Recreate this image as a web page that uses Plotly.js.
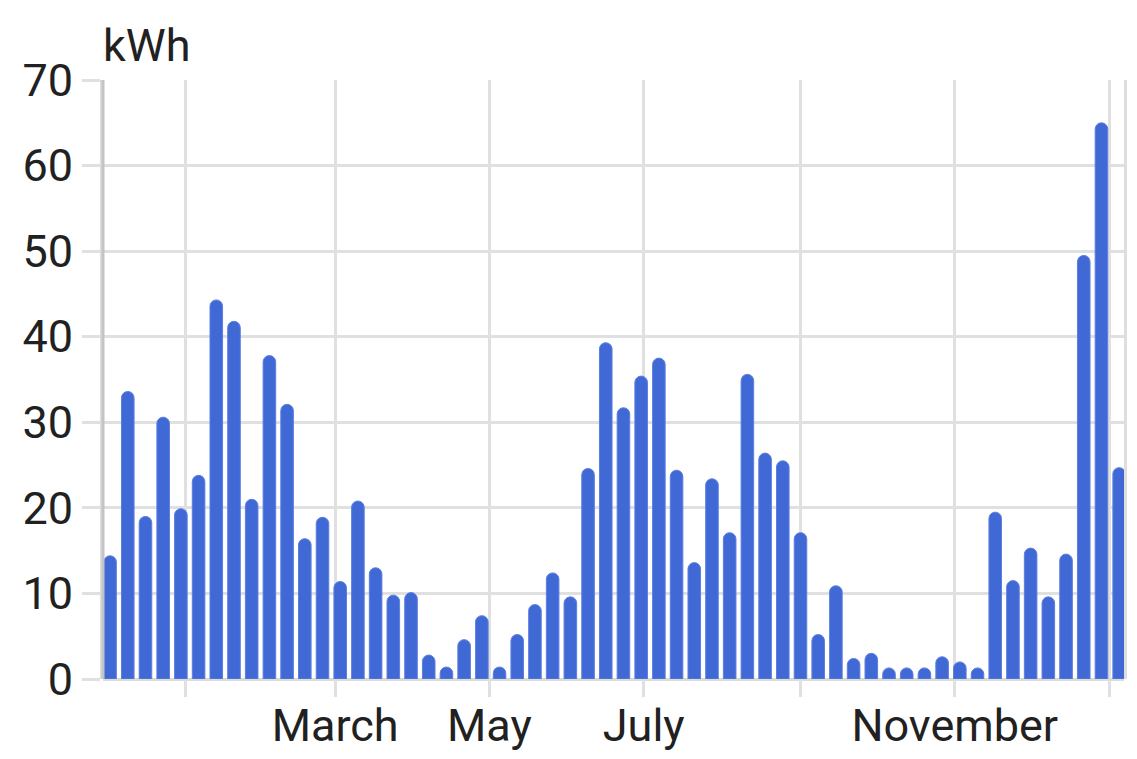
<!DOCTYPE html>
<html>
<head>
<meta charset="utf-8">
<script src="https://cdn.plot.ly/plotly-3.0.1.min.js"></script>
<style>
html,body{margin:0;padding:0;background:#fff;}
#chart{width:1137px;height:759px;}
</style>
</head>
<body>
<div id="chart"></div>
<script>
// Weekly consumption (kWh)
const weeks = [
  '2021-12-02','2021-12-09','2021-12-16','2021-12-23','2021-12-30',
  '2022-01-06','2022-01-13','2022-01-20','2022-01-27',
  '2022-02-03','2022-02-10','2022-02-17','2022-02-24',
  '2022-03-03','2022-03-10','2022-03-17','2022-03-24','2022-03-31',
  '2022-04-07','2022-04-14','2022-04-21','2022-04-28',
  '2022-05-05','2022-05-12','2022-05-19','2022-05-26',
  '2022-06-02','2022-06-09','2022-06-16','2022-06-23','2022-06-30',
  '2022-07-07','2022-07-14','2022-07-21','2022-07-28',
  '2022-08-04','2022-08-11','2022-08-18','2022-08-25',
  '2022-09-01','2022-09-08','2022-09-15','2022-09-22','2022-09-29',
  '2022-10-06','2022-10-13','2022-10-20','2022-10-27',
  '2022-11-03','2022-11-10','2022-11-17','2022-11-24',
  '2022-12-01','2022-12-08','2022-12-15','2022-12-22','2022-12-29',
  '2023-01-05'
];
const energy = [
  14.4, 33.6, 19.0, 30.6, 19.9,
  23.8, 44.3, 41.8, 21.0,
  37.8, 32.1, 16.4, 18.9,
  11.4, 20.8, 13.0, 9.8, 10.1,
  2.8, 1.4, 4.6, 7.4,
  1.4, 5.2, 8.7, 12.4,
  9.6, 24.6, 39.3, 31.7, 35.4,
  37.5, 24.4, 13.6, 23.4,
  17.1, 35.6, 26.4, 25.5,
  17.1, 5.2, 10.9, 2.4, 3.0,
  1.3, 1.3, 1.3, 2.6,
  2.0, 1.3, 19.5, 11.5,
  15.3, 9.6, 14.6, 49.5, 65.0,
  24.7
];
const tickDates = ['2022-01-01','2022-03-01','2022-05-01','2022-07-01','2022-09-01','2022-11-01','2023-01-01'];
const tickLabels = ['', 'March', 'May', 'July', '', 'November', ''];
const yTicks = [0, 10, 20, 30, 40, 50, 60, 70];
const unitLabel = 'kWh';

const gridColor = '#e0e0e0';
const textColor = '#212121';
const font = 'Roboto, sans-serif';
const fs = 45;

const trace = {
  type: 'bar',
  x: weeks,
  y: energy,
  marker: {
    color: '#4169d6',
    line: {color: '#5a7fe0', width: 1},
    cornerradius: '50%'
  },
  hoverinfo: 'x+y'
};

const layout = {
  width: 1137,
  height: 759,
  margin: {l: 103, r: 13, t: 80, b: 80, pad: 0},
  paper_bgcolor: '#ffffff',
  plot_bgcolor: '#ffffff',
  showlegend: false,
  bargap: 0.29,
  font: {family: font, color: textColor, size: fs},
  xaxis: {
    type: 'date',
    range: ['2021-11-29 05:00', '2023-01-06 22:00'],
    tickmode: 'array',
    tickvals: tickDates,
    ticktext: tickLabels,
    showgrid: true,
    gridcolor: gridColor,
    gridwidth: 3,
    ticks: 'outside',
    ticklen: 17,
    tickwidth: 3,
    tickcolor: gridColor,
    showline: false,
    zeroline: false,
    ticklabelstandoff: -10,
    tickfont: {family: font, size: fs, color: textColor}
  },
  yaxis: {
    range: [0, 70],
    tickmode: 'array',
    tickvals: yTicks,
    showgrid: true,
    gridcolor: gridColor,
    gridwidth: 3,
    zeroline: true,
    zerolinecolor: '#dcdcdc',
    zerolinewidth: 3,
    showline: true,
    mirror: true,
    linecolor: '#dedede',
    linewidth: 3,
    ticks: 'outside',
    ticklen: 18,
    tickwidth: 3,
    tickcolor: gridColor,
    tickfont: {family: font, size: fs, color: textColor}
  },
  shapes: [{
    type: 'line', xref: 'paper', yref: 'paper',
    x0: 0, x1: 0, y0: 0, y1: 1,
    line: {color: '#c4c4c4', width: 3},
    layer: 'above'
  }],
  annotations: [{
    text: unitLabel,
    xref: 'paper', yref: 'paper',
    x: 0, y: 1,
    xanchor: 'left', yanchor: 'bottom',
    xshift: -2, yshift: 6,
    showarrow: false,
    font: {family: font, size: fs, color: textColor}
  }]
};

Plotly.newPlot('chart', [trace], layout, {displayModeBar: false, staticPlot: true});
</script>
</body>
</html>
